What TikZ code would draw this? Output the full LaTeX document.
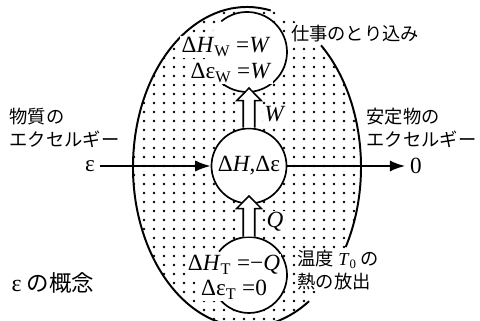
\documentclass[tikz,border=0pt]{standalone}
\usepackage{fontspec}
\setmainfont{Liberation Serif}
\newfontfamily\jpf{Noto Sans CJK JP}
\usepackage{tikz}
\usetikzlibrary{calc,arrows.meta,positioning}
\tikzset{
  rim/.style={line width=1.4pt},
  ring/.style={line width=1.2pt},
  flow/.style={-{Latex[length=11pt,width=8pt]},line width=1.4pt},
  lbl/.style={font=\jpf\fontsize{13}{16.5}\selectfont,align=left,inner sep=1pt},
  eq/.style={font=\fontsize{16.5}{18}\selectfont,fill=white,inner sep=1pt},
  blockarr/.style={draw,fill=white,line width=1.1pt,
    to path={let \p1=(\tikztostart), \p2=(\tikztotarget) in
      (\x1-4.1pt,\y1) -- (\x1-4.1pt,\y2-9pt) -- (\x1-8.8pt,\y2-9pt) -- (\x1,\y2)
      -- (\x1+8.8pt,\y2-9pt) -- (\x1+4.1pt,\y2-9pt) -- (\x1+4.1pt,\y1)}}
}
\begin{document}
\begin{tikzpicture}[x=0.025cm,y=0.025cm]
\useasboundingbox (0,0) rectangle (480,321);
\begin{scope}
\clip (247,154) ellipse [x radius=114,y radius=160];
\foreach \i in {0,...,23}
  \foreach \j in {-1,...,36}
    \fill (134+10*\i,2+9*\j) circle (1.35);
\end{scope}
\draw[rim] (247,154) ++(49.5:114 and 160) arc[start angle=49.5,end angle=-30,x radius=114,y radius=160];
\draw[rim] (247,154) ++(78:114 and 160) arc[start angle=78,end angle=303,x radius=114,y radius=160];

\node[circle,fill=white,inner sep=0pt,minimum size=2cm] (top) at (247,269) {};
\node[circle,fill=white,inner sep=0pt,minimum size=1.9cm] (bot) at (249,46) {};
\node[circle,draw,ring,fill=white,inner sep=0pt,minimum size=1.875cm,font=\fontsize{16.5}{18}\selectfont] (mid) at (249,155) {Δ\textit{H},Δε};
\draw[ring] (top.center) ++(130:40) arc[start angle=130,end angle=-148,radius=40];
\draw[ring] (bot.center) ++(142:38) arc[start angle=142,end angle=-142,radius=38];

\path[blockarr] (mid.north) to ([yshift=3pt]top.south);
\path[blockarr] (bot.north) to ([yshift=6pt]mid.south);

\node[eq] (hw) at (226,274) {Δ\textit{H}\textsubscript{W} =\textit{W}};
\node[eq] (ew) at (231,248) {Δε\textsubscript{W} =\textit{W}};
\node[eq] (ht) at (234,56) {Δ\textit{H}\textsubscript{T} =−\textit{Q}};
\node[eq] (et) at (234,31) {Δε\textsubscript{T} =0};
\node[eq] (wl) at (275,207) {\textit{W}};
\node[eq] (ql) at (275,99) {\textit{Q}};

\node[font=\fontsize{16.5}{18}\selectfont] (eps) at (90,155) {ε};
\node[font=\fontsize{16.5}{18}\selectfont] (zero) at (416,155) {0};
\draw[flow] (eps) -- (mid);
\draw[flow] (mid) -- (zero);

\node[lbl,anchor=west] (src) at (8,193) {物質の\\エクセルギー};
\node[lbl,anchor=west] (snk) at (365,193) {安定物の\\エクセルギー};
\node[lbl,fill=white] (work) at (355,287) {仕事のとり込み};
\node[lbl,anchor=west,fill=white] (heat) at (296,51) {温度 {\rmfamily\textit{T}\textsubscript{0}} の\\熱の放出};
\node[lbl,font=\jpf\fontsize{16}{18}\selectfont,anchor=west] (cap) at (10,38) {{\rmfamily\fontsize{17}{18}\selectfont ε} の概念};
\end{tikzpicture}
\end{document}
